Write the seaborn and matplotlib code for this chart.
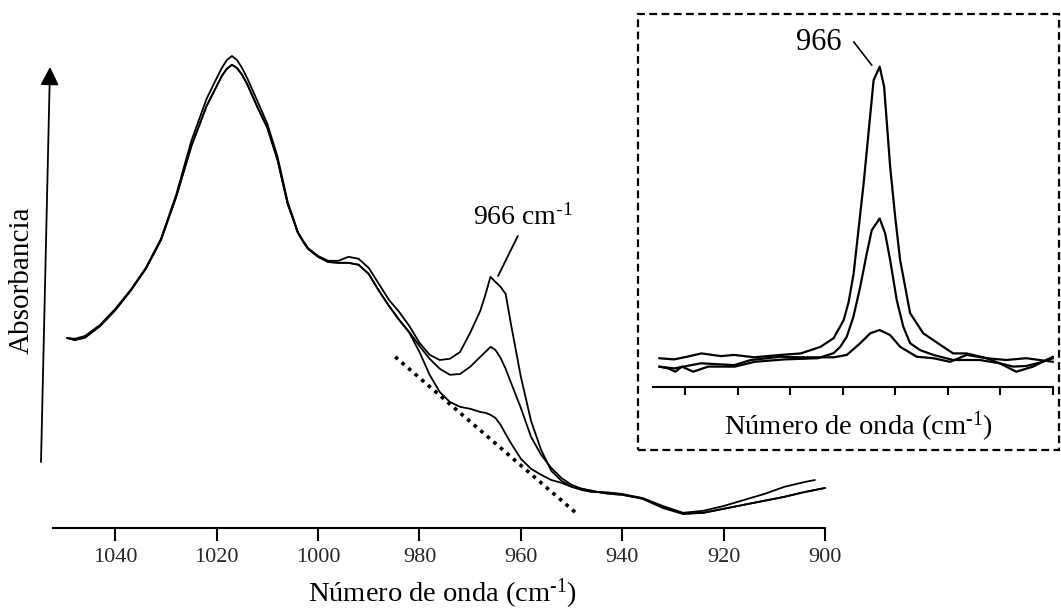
import numpy as np
import pandas as pd
import matplotlib
matplotlib.use("Agg")
import matplotlib.pyplot as plt
import seaborn as sns
from matplotlib.patches import Rectangle

# ---------------- data ----------------
# main spectra: wavenumber (cm-1) and absorbance of the three samples
wn_main = [1049.5, 1048, 1046, 1043, 1040, 1037, 1034, 1031, 1028, 1025,
           1022, 1020, 1019, 1018, 1017, 1016, 1015, 1014, 1012, 1010,
           1008, 1006, 1005, 1004, 1003, 1002, 1000, 998, 996, 994,
           992, 990, 988, 986, 984, 982, 980, 978, 976, 974,
           972, 970, 968, 967, 966, 965, 964, 963, 962, 960,
           958, 956, 954, 952, 950, 948, 946, 944, 942, 940,
           936, 932, 928, 924, 920, 916, 912, 908, 904, 902,
           900]

abs_high = [0.475, 0.473, 0.480, 0.508, 0.548, 0.595, 0.650, 0.723, 0.833, 0.968,
            1.073, 1.125, 1.150, 1.170, 1.180, 1.170, 1.150, 1.125, 1.068, 1.010,
            0.928, 0.815, 0.778, 0.740, 0.719, 0.700, 0.680, 0.668, 0.668, 0.678,
            0.673, 0.650, 0.610, 0.570, 0.540, 0.505, 0.463, 0.433, 0.420, 0.423,
            0.440, 0.488, 0.543, 0.583, 0.628, 0.615, 0.603, 0.585, 0.513, 0.378,
            0.268, 0.195, 0.143, 0.118, 0.103, 0.095, 0.090, 0.090, 0.088, 0.085,
            0.075, 0.055, 0.038, 0.043, 0.055, 0.070, 0.085, 0.103, 0.115, 0.120,
            np.nan]

abs_mid = [0.475, 0.470, 0.476, 0.505, 0.545, 0.593, 0.648, 0.720, 0.828, 0.955,
           1.055, 1.105, 1.130, 1.148, 1.158, 1.150, 1.133, 1.110, 1.053, 1.000,
           0.920, 0.810, 0.775, 0.738, 0.717, 0.698, 0.678, 0.665, 0.663, 0.663,
           0.658, 0.635, 0.593, 0.555, 0.520, 0.490, 0.455, 0.423, 0.398, 0.383,
           0.385, 0.403, 0.428, 0.440, 0.453, 0.445, 0.425, 0.398, 0.365, 0.300,
           0.228, 0.183, 0.150, 0.125, 0.108, 0.098, 0.093, 0.088, 0.085, 0.083,
           0.073, 0.050, 0.035, 0.038, 0.048, 0.058, 0.068, 0.078, 0.090, 0.095,
           0.100]

abs_low = [0.475, 0.470, 0.476, 0.505, 0.545, 0.593, 0.648, 0.720, 0.828, 0.955,
           1.055, 1.105, 1.130, 1.148, 1.158, 1.150, 1.133, 1.110, 1.053, 1.000,
           0.920, 0.810, 0.775, 0.738, 0.717, 0.698, 0.678, 0.665, 0.663, 0.663,
           0.658, 0.635, 0.593, 0.555, 0.520, 0.488, 0.440, 0.383, 0.340, 0.315,
           0.303, 0.298, 0.290, 0.288, 0.283, 0.275, 0.258, 0.235, 0.213, 0.173,
           0.148, 0.133, 0.120, 0.113, 0.103, 0.098, 0.093, 0.088, 0.085, 0.083,
           0.074, 0.052, 0.036, 0.038, 0.048, 0.058, 0.068, 0.078, 0.090, 0.095,
           0.100]

# baseline tangent (dotted)
tangent_wn = [984.8, 948.7]
tangent_abs = [0.428, 0.033]

# difference spectra shown in the inset
inset_wn_tall = [1050, 1044.3, 1039.3, 1033.9, 1026.4, 1021.4, 1013.8, 1003.6, 996.0, 988.5,
                 983.5, 979.7, 977.8, 975.9, 974.0, 972.1, 970.2, 968.3, 966.0, 964.3,
                 962.0, 960.1, 958.2, 954.4, 949.4, 941.8, 938.0, 932.9, 925.3, 920.3,
                 915.2, 910.2, 905.1, 900]
inset_tall = [0.096, 0.092, 0.101, 0.112, 0.103, 0.107, 0.099, 0.107, 0.112, 0.134,
              0.163, 0.223, 0.284, 0.379, 0.529, 0.679, 0.851, 1.023, 1.068, 1.001,
              0.734, 0.568, 0.423, 0.246, 0.179, 0.134, 0.112, 0.112, 0.096, 0.079,
              0.068, 0.070, 0.081, 0.096]

inset_wn_mid = [1050, 1046.5, 1043.8, 1041.3, 1037.0, 1031.3, 1021.2, 1013.6, 1002.2, 989.5,
                983.5, 981.0, 978.5, 976.0, 973.4, 970.9, 969.0, 966.0, 963.9, 962.0,
                959.5, 957.0, 954.4, 950.6, 945.6, 938.0, 927.9, 920.3, 914.0, 907.6,
                900]
inset_mid = [0.068, 0.062, 0.051, 0.068, 0.051, 0.068, 0.068, 0.084, 0.092, 0.096,
             0.113, 0.134, 0.168, 0.234, 0.334, 0.446, 0.523, 0.562, 0.512, 0.423,
             0.290, 0.201, 0.146, 0.123, 0.107, 0.090, 0.090, 0.079, 0.051, 0.068,
             0.101]

inset_wn_small = [1050, 1044.2, 1034.1, 1021.4, 1015.1, 1003.7, 996.1, 983.5, 978.5, 973.4,
                  969.6, 966.0, 962.0, 958.2, 951.9, 945.6, 939.2, 932.9, 925.3, 917.8,
                  910.2, 905.1, 900]
inset_small = [0.068, 0.062, 0.079, 0.073, 0.090, 0.101, 0.099, 0.099, 0.107, 0.146,
               0.179, 0.190, 0.173, 0.134, 0.101, 0.096, 0.084, 0.107, 0.096, 0.090,
               0.096, 0.090, 0.084]

x_ticks = [1040, 1020, 1000, 980, 960, 940, 920, 900]
peak_label = "966"
x_title = r"Número de onda (cm$^{\text{-1}}$)"

# ---------------- style ----------------
sns.set_theme(style="white")
plt.rcParams["font.family"] = ["Liberation Serif", "DejaVu Serif"]
plt.rcParams["mathtext.fontset"] = "custom"
plt.rcParams["mathtext.rm"] = "Liberation Serif"
plt.rcParams["mathtext.it"] = "Liberation Serif:italic"

W, H = 1061, 609
fig = plt.figure(figsize=(W / 100, H / 100), dpi=100)


def px_box(x0, y0, x1, y1):
    """Pixel box measured from the top-left corner -> figure-fraction rect."""
    return [x0 / W, 1 - y1 / H, (x1 - x0) / W, (y1 - y0) / H]


def fx(px):
    return px / W


def fy(py):
    return 1 - py / H


# ---------------- main spectra ----------------
ax = fig.add_axes(px_box(53, 48, 825, 528))
main_df = pd.DataFrame({"wn": wn_main, "high": abs_high, "mid": abs_mid, "low": abs_low})
for col in ["high", "mid", "low"]:
    sns.lineplot(data=main_df, x="wn", y=col, ax=ax, color="black", lw=1.3,
                 sort=False, estimator=None, clip_on=False)
ax.plot(tangent_wn, tangent_abs, color="black", lw=2.6,
        ls=(0, (1, 1.4)), dash_capstyle="butt", clip_on=False)

ax.set_xlim(1052.3, 900)
ax.set_ylim(0, 1.2)
ax.set_xticks(x_ticks)
ax.set_xticklabels([str(t) for t in x_ticks])
ax.set_yticks([])
ax.set_xlabel("")
ax.set_ylabel("")
for s in ["top", "right", "left"]:
    ax.spines[s].set_visible(False)
ax.spines["bottom"].set_color("black")
ax.spines["bottom"].set_linewidth(1.5)
ax.tick_params(axis="x", direction="out", length=9.5, width=1.5, color="black",
               labelsize=16, pad=5, bottom=True)
ax.patch.set_alpha(0)

ax.text(969.4, 0.758, peak_label + r" cm$^{\text{-1}}$", fontsize=20,
        ha="left", va="baseline", color="black")
ax.plot([960.6, 964.5], [0.73, 0.63], color="black", lw=1.3)

fig.text(fx(442), fy(594), x_title, fontsize=20.5,
         ha="center", va="center", color="black")
fig.text(fx(22), fy(280), "Absorbancia", fontsize=21, rotation=90,
         ha="center", va="center", color="black")

# absorbance arrow
ax.annotate("", xy=(fx(50), fy(67)), xytext=(fx(41), fy(462)),
            xycoords="figure fraction", textcoords="figure fraction",
            arrowprops=dict(arrowstyle="-|>,head_length=0.55,head_width=0.28",
                            mutation_scale=20, lw=1.3, color="black",
                            shrinkA=0, shrinkB=0))

# ---------------- inset ----------------
fig.add_artist(Rectangle((fx(638), fy(450)), (1059 - 638) / W, (450 - 14) / H,
                         transform=fig.transFigure, fill=False, edgecolor="black",
                         lw=1.6, ls=(0, (3.5, 2))))

axi = fig.add_axes(px_box(653, 40, 1053, 387))
for xs, ys in [(inset_wn_tall, inset_tall), (inset_wn_mid, inset_mid),
               (inset_wn_small, inset_small)]:
    sns.lineplot(x=xs, y=ys, ax=axi, color="black", lw=1.6, sort=False,
                 estimator=None, clip_on=False)
axi.set_xlim(1052.3, 900)
axi.set_ylim(0, 1.157)
axi.set_xticks(x_ticks)
axi.set_xticklabels([])
axi.set_yticks([])
for s in ["top", "right", "left"]:
    axi.spines[s].set_visible(False)
axi.spines["bottom"].set_color("black")
axi.spines["bottom"].set_linewidth(1.5)
axi.tick_params(axis="x", direction="out", length=6, width=1.5, color="black",
                bottom=True)
axi.patch.set_alpha(0)

axi.text(989.2, 1.147, peak_label, fontsize=22, ha="center", va="center", color="black")
axi.plot([975.9, 969.0], [1.151, 1.073], color="black", lw=1.2, clip_on=False)

fig.text(fx(858), fy(427), x_title, fontsize=20.5,
         ha="center", va="center", color="black")

fig.savefig("out.png", dpi=100)
